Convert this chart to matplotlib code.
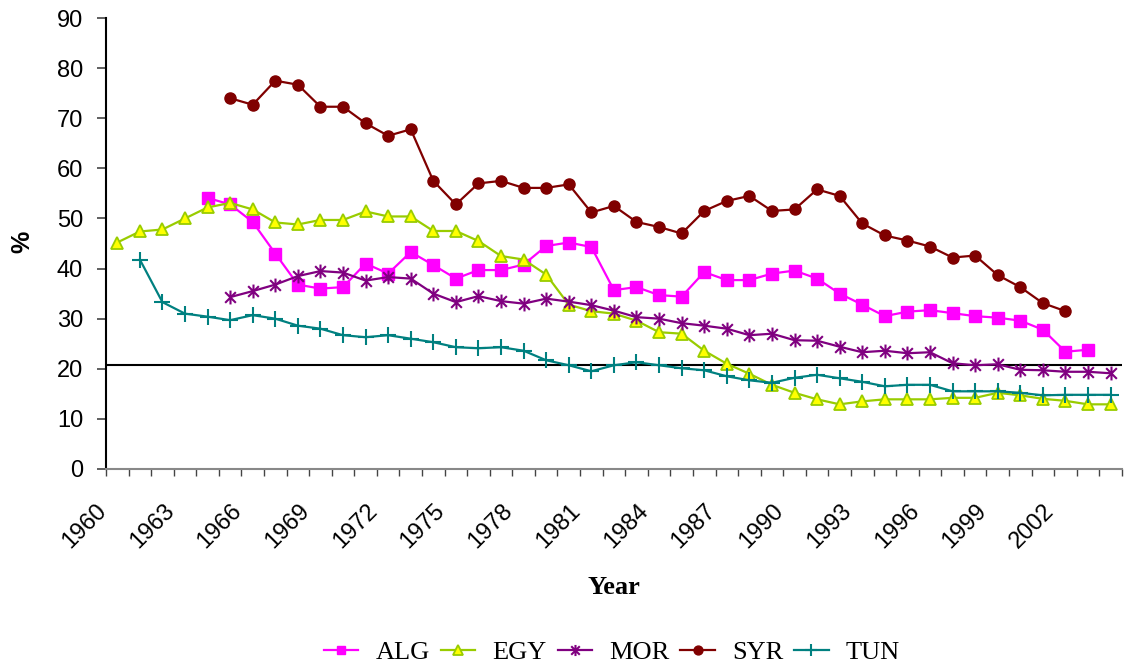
import numpy as np
import matplotlib
matplotlib.use("Agg")
import matplotlib.pyplot as plt
from matplotlib.path import Path
from matplotlib.transforms import ScaledTranslation

years = list(range(1960, 2005))

alg_years = list(range(1964, 2004))
alg = [54.1, 52.8, 49.3, 43.0, 36.8, 36.0, 36.3, 41.0, 39.0, 43.3,
       40.7, 38.0, 39.7, 39.7, 40.8, 44.5, 45.2, 44.3, 35.7, 36.3,
       34.7, 34.4, 39.3, 37.7, 37.7, 39.0, 39.6, 38.0, 35.0, 32.8,
       30.5, 31.4, 31.7, 31.1, 30.5, 30.2, 29.6, 27.8, 23.4, 23.8]

egy_years = list(range(1960, 2005))
egy = [45.2, 47.4, 47.8, 50.0, 52.2, 53.1, 51.8, 49.2, 48.8, 49.7,
       49.7, 51.4, 50.4, 50.4, 47.5, 47.5, 45.5, 42.5, 41.8, 38.8,
       32.8, 31.5, 31.0, 29.6, 27.3, 27.0, 23.6, 21.0, 19.0, 16.8,
       15.2, 13.9, 12.9, 13.5, 13.9, 13.9, 13.9, 14.2, 14.2, 15.2,
       14.7, 14.0, 13.6, 12.9, 12.9]

mor_years = list(range(1965, 2005))
mor = [34.3, 35.5, 36.8, 38.5, 39.5, 39.2, 37.6, 38.3, 38.0, 35.0,
       33.3, 34.5, 33.5, 33.0, 34.0, 33.4, 32.7, 31.6, 30.3, 30.0,
       29.1, 28.6, 28.0, 26.7, 27.0, 25.7, 25.6, 24.4, 23.3, 23.6,
       23.1, 23.3, 21.1, 20.7, 20.9, 19.8, 19.7, 19.4, 19.4, 19.1]

syr_years = list(range(1965, 2003))
syr = [74.0, 72.7, 77.5, 76.7, 72.3, 72.3, 69.0, 66.5, 67.8, 57.5,
       52.8, 57.0, 57.5, 56.1, 56.1, 56.8, 51.2, 52.5, 49.3, 48.3,
       47.0, 51.5, 53.5, 54.5, 51.5, 51.8, 55.8, 54.5, 49.0, 46.6,
       45.6, 44.4, 42.2, 42.6, 38.7, 36.3, 33.1, 31.5]

tun_years = list(range(1961, 2005))
tun = [41.8, 33.3, 31.0, 30.4, 29.7, 30.7, 30.0, 28.6, 28.0, 26.7,
       26.3, 26.7, 26.0, 25.3, 24.3, 24.1, 24.3, 23.6, 21.7, 20.7,
       19.5, 20.7, 21.3, 20.7, 20.1, 19.7, 18.5, 17.7, 17.2, 18.2,
       18.8, 18.1, 17.4, 16.5, 16.8, 16.8, 15.5, 15.5, 15.5, 15.2,
       14.7, 14.8, 14.8, 14.8]

ref_level = 20.7
tick_label_years = list(range(1960, 2003, 3))
yticks = list(range(0, 91, 10))

fig = plt.figure(figsize=(11.25, 6.69), dpi=100)
ax = fig.add_axes([0.0942, 0.299, 0.903, 0.674])

star_path = Path(
    [(-1, -1), (1, 1), (-1, 1), (1, -1), (0, -1.3), (0, 1.3)],
    [Path.MOVETO, Path.LINETO, Path.MOVETO, Path.LINETO, Path.MOVETO, Path.LINETO])

lw = 1.6
ax.plot(alg_years, alg, color='#FF00FF', lw=lw, marker='s', ms=8,
        mfc='#FF00FF', mec='#FF00FF', label='ALG', zorder=3)
ax.plot(egy_years, egy, color='#99CC00', lw=lw, marker='^', ms=9,
        mfc='#FFFF00', mec='#99CC00', mew=1.3, label='EGY', zorder=3)
ax.plot(mor_years, mor, color='#800080', lw=lw, marker=star_path, ms=10,
        mec='#800080', mew=1.5, label='MOR', zorder=3)
ax.plot(syr_years, syr, color='#800000', lw=lw, marker='o', ms=8,
        mfc='#800000', mec='#800000', label='SYR', zorder=3)
ax.plot(tun_years, tun, color='#008080', lw=lw, marker='+', ms=11,
        mec='#008080', mew=1.5, label='TUN', zorder=3)

ax.axhline(ref_level, color='black', lw=1.5, zorder=2)

ax.set_xlim(1959.5, 2004.5)
ax.set_ylim(0, 90)
ax.set_yticks(yticks)
ax.set_yticklabels([str(v) for v in yticks], fontsize=17, family='Liberation Sans')
ax.tick_params(axis='y', direction='out', length=6.5, width=1.2, pad=10, color='#444444')

ax.set_xticks(np.arange(1959.5, 2005.0, 1.0))
ax.set_xticklabels([])
ax.tick_params(axis='x', which='major', direction='out', length=5, width=1.0, color='#444444')
ax.set_xticks(tick_label_years, minor=True)
labs = ax.set_xticklabels([str(y) for y in tick_label_years], minor=True, rotation=45,
                          ha='right', va='top', rotation_mode='anchor', fontsize=17,
                          family='Liberation Sans')
ax.tick_params(axis='x', which='minor', length=0, pad=22)
off = ScaledTranslation(-22 / 100, 0, fig.dpi_scale_trans)
for t in ax.xaxis.get_minorticklabels():
    t.set_transform(t.get_transform() + off)

for s in ['top', 'right']:
    ax.spines[s].set_visible(False)
ax.spines['left'].set_linewidth(1.5)
ax.spines['bottom'].set_color('#888888')
ax.spines['bottom'].set_linewidth(1.5)

fig.text(0.0196, 0.639, '%', rotation=90, fontsize=18, fontweight='bold',
         family='Liberation Sans', ha='center', va='center')
fig.text(0.546, 0.122, 'Year', fontsize=19, fontweight='bold',
         family='Liberation Serif', ha='center', va='center')

fig.legend(loc='center', bbox_to_anchor=(0.544, 0.025), ncol=5, frameon=False,
           prop={'family': 'Liberation Serif', 'size': 19}, handlelength=1.3,
           handletextpad=0.65, columnspacing=0.42, borderaxespad=0, markerscale=0.8)

fig.savefig('out.png', dpi=100)
